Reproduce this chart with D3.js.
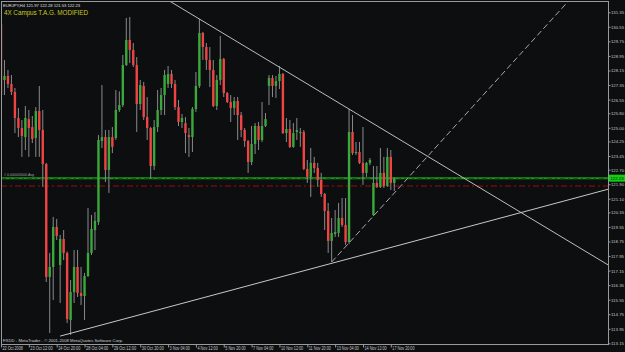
<!DOCTYPE html>
<html>
<head>
<meta charset="utf-8">
<script src="https://cdn.jsdelivr.net/npm/d3@7"></script>
<style>
body{margin:0;background:#0c0e10;}
svg{display:block;font-family:"Liberation Sans",Arial,sans-serif;}
</style>
</head>
<body>
<svg id="chart" width="625" height="352"></svg>
<script>
// EURJPY H4, 22 Oct 04:00 .. 18 Nov 00:00 (bar index 0..113)
var opens=[130.71,127.63,127.85,127.41,126.97,125.54,124.99,124.49,125.48,125.04,
	124.44,125.92,124.88,123.01,116.80,117.35,119.55,117.46,118.89,118.12,
	114.43,115.97,117.35,115.92,115.75,116.85,118.12,119.38,119.82,124.27,
	124.49,122.68,124.49,124.44,125.98,126.25,128.45,129.83,129.28,128.45,
	126.31,127.30,125.59,124.99,122.90,125.04,125.98,126.80,127.41,127.96,
	127.41,126.14,125.32,125.26,124.60,124.49,126.03,127.30,130.21,129.44,
	128.73,128.18,126.20,127.63,128.78,126.91,126.42,126.09,126.47,125.70,
	124.88,124.27,123.12,124.11,125.10,124.33,125.10,127.30,127.74,127.30,
	127.57,127.96,124.71,124.93,123.95,124.77,124.71,124.77,122.74,122.30,
	123.07,122.79,122.13,121.36,120.43,118.78,119.16,119.22,120.04,119.66,
	118.72,124.77,123.61,123.67,123.07,122.52,123.07,120.21,121.97,121.75,
	122.52,121.80,123.40,121.97];
var highs=[130.82,128.73,128.18,127.90,127.19,126.09,125.43,126.20,125.98,125.65,
	126.14,127.30,125.98,123.07,118.12,120.10,119.99,119.11,119.38,118.20,
	116.63,118.28,118.28,117.35,117.02,120.59,120.21,120.37,124.60,127.35,
	124.88,124.88,125.04,127.08,127.00,129.00,131.04,131.09,129.66,128.89,
	127.63,127.52,126.69,125.04,125.43,127.08,127.19,128.18,128.40,128.18,
	127.63,126.53,125.76,125.59,124.99,126.14,128.07,130.98,130.27,129.66,
	129.44,128.73,127.90,130.05,128.84,126.97,126.80,126.69,126.69,125.87,
	124.99,124.33,125.10,125.26,125.32,126.42,125.81,127.90,127.90,127.85,
	128.40,128.01,125.54,125.43,125.26,125.54,124.99,124.88,123.23,123.89,
	123.40,123.07,122.52,121.42,120.87,120.04,120.48,120.87,121.14,121.14,
	126.03,125.70,124.22,124.22,125.04,123.12,123.34,122.90,122.90,123.89,
	123.40,123.89,123.78,122.28];
var lows=[126.64,126.80,127.19,126.80,124.71,124.49,123.40,123.78,123.40,124.16,
	123.40,123.40,121.75,116.52,113.72,115.53,118.83,115.37,117.73,114.27,
	113.61,115.37,115.70,115.26,114.43,116.80,118.01,118.28,119.66,123.89,
	122.02,121.42,123.61,124.33,125.87,126.14,128.40,128.56,128.34,124.77,
	125.98,125.43,124.33,122.24,122.68,124.77,125.70,125.70,127.19,127.19,
	125.98,125.10,124.99,123.61,123.40,123.67,125.87,127.19,128.73,128.18,
	127.24,126.14,125.98,127.35,126.69,126.36,125.32,125.70,124.33,124.49,
	123.95,122.52,122.95,123.56,123.78,124.22,125.04,126.25,126.69,126.64,
	127.13,124.66,124.22,123.89,123.90,124.33,123.95,122.68,121.97,121.20,
	122.52,121.75,121.20,119.38,118.12,117.62,119.00,119.00,119.55,118.56,
	118.61,123.51,123.51,123.01,121.86,122.30,122.95,120.15,121.69,121.69,
	121.69,121.75,121.58,121.53];
var closes=[126.80,127.85,127.41,126.97,125.54,124.99,124.55,125.54,124.99,124.38,
	125.92,124.88,123.01,116.80,117.35,119.55,119.05,118.89,118.12,114.49,
	115.97,117.35,115.92,115.75,116.85,118.12,119.44,119.88,124.33,124.49,
	122.68,124.49,123.95,125.98,126.25,128.45,129.83,129.28,128.45,126.31,
	127.35,125.59,124.99,122.90,125.04,125.98,126.80,127.90,127.96,127.41,
	126.14,125.32,125.54,124.71,124.49,126.03,127.30,130.21,129.44,128.73,
	128.18,126.20,127.63,128.78,126.91,126.42,126.09,126.47,125.70,124.88,
	124.27,123.12,124.11,125.10,124.33,125.10,125.48,127.74,127.30,127.57,
	127.96,124.71,124.93,123.95,124.71,124.88,124.77,122.74,122.30,123.07,
	122.79,122.13,121.36,120.43,118.78,119.22,119.27,120.04,119.66,118.72,
	124.77,123.61,123.67,123.07,122.52,123.07,123.23,121.97,121.75,122.52,
	121.80,123.40,121.97,122.23];

var timeTickIdx=[0,8,16,24,32,40,48,56,64,72,80,88,96,104,112];
var timeTickLabels=["22 Oct 2008","23 Oct 12:00","24 Oct 20:00","28 Oct 04:00","29 Oct 12:00",
	"30 Oct 20:00","3 Nov 04:00","4 Nov 12:00","5 Nov 20:00","7 Nov 04:00","10 Nov 12:00",
	"11 Nov 20:00","13 Nov 04:00","14 Nov 12:00","17 Nov 20:00"];
var priceTicks=[131.35,130.55,129.75,128.95,128.15,127.35,126.55,125.80,125.00,124.25,123.45,
	122.70,121.90,121.10,120.35,119.55,118.75,117.95,117.15,116.35,115.55,114.75,113.95,113.15];

var bidPrice=122.23;
var redLevel=121.80;
// trend lines: [bar index, price] anchors
var trendDown=[[57,130.98],[100,126.03]];
var trendUp=[[17,113.55],[95,117.55]];
var trendDash=[[95,117.62],[107,120.15]];

var W=625,H=352;
var plot={left:1,top:1,right:608,bottom:344};
var svg=d3.select("#chart");

var x=d3.scaleLinear().domain([0,174.4]).range([1,608]);
var y=d3.scaleLinear().domain([113.115,131.97]).range([plot.bottom,plot.top]);

svg.append("rect").attr("width",W).attr("height",H).attr("fill","#0c0e10");
svg.append("defs").append("clipPath").attr("id","clip")
	.append("rect")
	.attr("x",plot.left).attr("y",plot.top)
	.attr("width",plot.right-plot.left).attr("height",plot.bottom-plot.top);

var g=svg.append("g").attr("clip-path","url(#clip)");

// horizontal levels
g.append("line")
	.attr("x1",plot.left).attr("x2",plot.right)
	.attr("y1",y(bidPrice)).attr("y2",y(bidPrice))
	.attr("stroke","#1c961c").attr("stroke-width",2);
g.append("line")
	.attr("x1",plot.left).attr("x2",plot.right)
	.attr("y1",y(bidPrice)+0.5).attr("y2",y(bidPrice)+0.5)
	.attr("stroke","#0b5a0b").attr("stroke-width",1)
	.attr("stroke-dasharray","5,3,2,3");
g.append("line")
	.attr("x1",plot.left).attr("x2",plot.right)
	.attr("y1",y(redLevel)).attr("y2",y(redLevel))
	.attr("stroke","#a00808").attr("stroke-width",1)
	.attr("stroke-dasharray","6,3,2,3");

// candles
var bars=opens.map(function(o,i){
	return {i:i,o:o,h:highs[i],l:lows[i],c:closes[i]};
});
g.selectAll(".wick").data(bars).enter().append("line")
	.attr("class","wick")
	.attr("x1",function(d){return x(d.i);})
	.attr("x2",function(d){return x(d.i);})
	.attr("y1",function(d){return y(d.h);})
	.attr("y2",function(d){return y(d.l);})
	.attr("stroke","#8a8a8a").attr("stroke-width",1);
g.selectAll(".body").data(bars).enter().append("rect")
	.attr("class","body")
	.attr("x",function(d){return x(d.i)-1.2;})
	.attr("width",2.4)
	.attr("y",function(d){return y(Math.max(d.o,d.c));})
	.attr("height",function(d){return Math.max(1,Math.abs(y(d.o)-y(d.c)));})
	.attr("fill",function(d){return d.c>=d.o?"#3aa83a":"#f04444";});

// trend lines
function drawTrend(pts,from,to,dash,col){
	var m=(pts[1][1]-pts[0][1])/(pts[1][0]-pts[0][0]);
	var p=function(i){return pts[0][1]+m*(i-pts[0][0]);};
	g.append("line")
		.attr("x1",x(from)).attr("y1",y(p(from)))
		.attr("x2",x(to)).attr("y2",y(p(to)))
		.attr("stroke",col).attr("stroke-width",1)
		.attr("stroke-dasharray",dash);
}
drawTrend(trendDown,0,180,null,"#bdbdbd");
drawTrend(trendUp,trendUp[0][0],180,null,"#c8c8c8");
drawTrend(trendDash,trendDash[0][0],180,"6,3","#a8a8a8");

// frame
svg.append("rect")
	.attr("x",plot.left+0.5).attr("y",plot.top+0.5)
	.attr("width",plot.right-plot.left).attr("height",plot.bottom-plot.top)
	.attr("fill","none").attr("stroke","#9a9a9a").attr("stroke-width",1);

// price axis
var yAxis=d3.axisRight(y).tickValues(priceTicks).tickSize(2).tickPadding(0.5)
	.tickFormat(d3.format(".2f"));
var ga=svg.append("g").attr("transform","translate("+(plot.right+0.5)+",0)").call(yAxis);
ga.select(".domain").remove();
ga.selectAll("line").attr("stroke","#9a9a9a");
ga.selectAll("text").attr("fill","#c8c8c8").attr("font-size",4.4)
	.attr("font-family","Liberation Sans,Arial,sans-serif")
	.attr("textLength",13).attr("lengthAdjust","spacingAndGlyphs");

// bid label
svg.append("rect")
	.attr("x",plot.right+1).attr("y",y(bidPrice)-3.5)
	.attr("width",16).attr("height",7).attr("fill","#10d010");
svg.append("text")
	.attr("x",plot.right+2.5).attr("y",y(bidPrice)+1.7)
	.attr("font-size",4.4).attr("fill","#0c0e10")
	.attr("textLength",13).attr("lengthAdjust","spacingAndGlyphs")
	.text(d3.format(".2f")(bidPrice));

// time axis
var xAxis=d3.axisBottom(x).tickValues(timeTickIdx).tickSize(3).tickPadding(0)
	.tickFormat(function(d,i){return timeTickLabels[i];});
var gx=svg.append("g").attr("transform","translate(0,"+(plot.bottom+0.5)+")").call(xAxis);
gx.select(".domain").remove();
gx.selectAll("line").attr("stroke","#9a9a9a");
gx.selectAll("text").attr("fill","#c8c8c8").attr("font-size",4.6)
	.attr("font-family","Liberation Sans,Arial,sans-serif")
	.attr("text-anchor","start").attr("dx",1).attr("dy","0.55em")
	.attr("textLength",function(d,i){return timeTickLabels[i].length*1.85;})
	.attr("lengthAdjust","spacingAndGlyphs");

// texts
svg.append("text").attr("x",3).attr("y",6.5).attr("font-size",4.2).attr("fill","#e0e0e0")
	.attr("textLength",77).attr("lengthAdjust","spacingAndGlyphs")
	.text("EURJPY,H4  121.97 122.28 121.53 122.23");
svg.append("text").attr("x",4).attr("y",15).attr("font-size",6.4).attr("fill","#c8c81e")
	.attr("textLength",84).attr("lengthAdjust","spacing")
	.text("4X Campus   T.A.G. MODIFIED");
svg.append("text").attr("x",4).attr("y",y(bidPrice)-1.8).attr("font-size",3.6).attr("fill","#a0a0a0")
	.text("# 0.0000/0000.Avg");
svg.append("text").attr("x",3).attr("y",341.5).attr("font-size",4.2).attr("fill","#d0d0d0")
	.attr("textLength",120).attr("lengthAdjust","spacingAndGlyphs")
	.text("FXDD - MetaTrader - \u00a9 2001-2008 MetaQuotes Software Corp.");
</script>
</body>
</html>
